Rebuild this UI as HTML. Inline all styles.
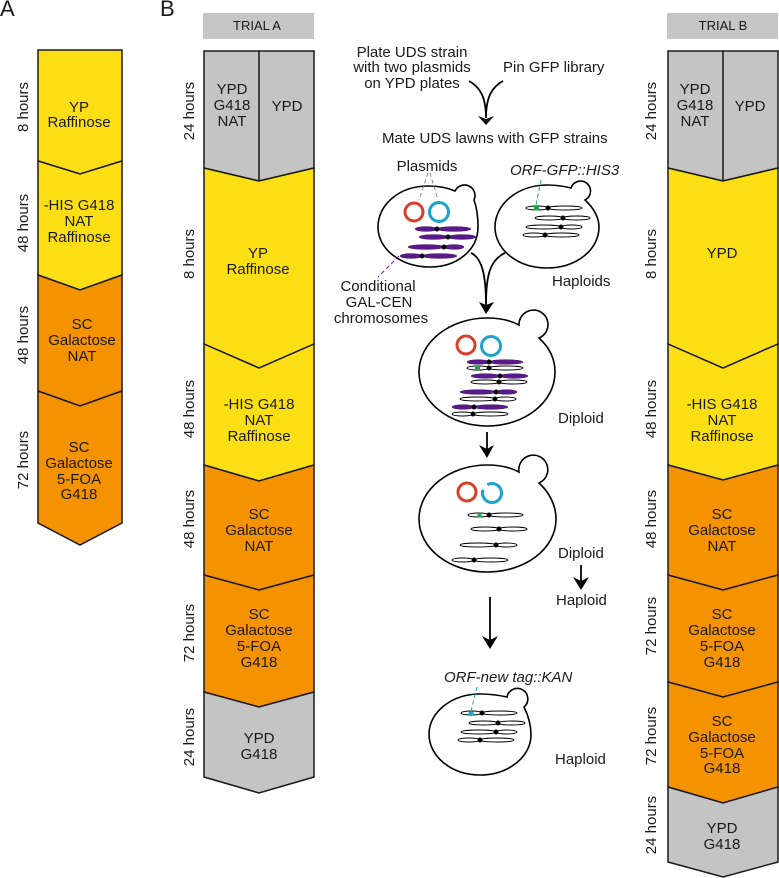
<!DOCTYPE html>
<html><head><meta charset="utf-8"><style>
html,body{margin:0;padding:0;background:#fff}
svg{display:block}
text{font-family:"Liberation Sans",sans-serif;font-size:15px;fill:#1a1a1a}
.m{text-anchor:middle}
.h{font-size:13px}
.i{font-style:italic}
.big{font-size:22px}
.s polygon,.s line{stroke:#1a1a1a;stroke-width:1.5}
.y{fill:#fbdf14}.o{fill:#f59200}.g{fill:#c4c4c4}
.cell{fill:#fff;stroke:#000;stroke-width:1.6}
.pu{fill:#5a1a8c;stroke:#3c1060;stroke-width:.5}
.wh{fill:#fff;stroke:#000;stroke-width:.9}
.arr{fill:none;stroke:#000;stroke-width:1.8}
.dot{fill:#000}
</style></head><body>
<svg width="779" height="878" viewBox="0 0 779 878" xmlns="http://www.w3.org/2000/svg">
<text class="big" x="0" y="16">A</text>
<text class="big" x="160" y="16">B</text>
<rect x="203" y="13" width="111" height="26" fill="#c6c6c6"/>
<rect x="667" y="13" width="111" height="26" fill="#c6c6c6"/>
<text class="m h" x="257" y="30">TRIAL A</text>
<text class="m h" x="723" y="30">TRIAL B</text>

<g class="s">
<polygon class="y" points="38,50 122,50 122,161 80,174 38,161"/>
<polygon class="y" points="38,161 80,174 122,161 122,275 80,290 38,275"/>
<polygon class="o" points="38,275 80,290 122,275 122,391 80,406 38,391"/>
<polygon class="o" points="38,391 80,406 122,391 122,523 80,545 38,523"/>

<polygon class="g" points="204,51 314,51 314,168 259,181 204,168"/>
<line x1="259" y1="51" x2="259" y2="181"/>
<polygon class="y" points="204,168 259,181 314,168 314,344 259,368 204,344"/>
<polygon class="y" points="204,344 259,368 314,344 314,465 259,481 204,465"/>
<polygon class="o" points="204,465 259,481 314,465 314,575 259,590 204,575"/>
<polygon class="o" points="204,575 259,590 314,575 314,692 259,707 204,692"/>
<polygon class="g" points="204,692 259,707 314,692 314,777 259,793 204,777"/>

<polygon class="g" points="668,51 778,51 778,168 723,181 668,168"/>
<line x1="723" y1="51" x2="723" y2="181"/>
<polygon class="y" points="668,168 723,181 778,168 778,344 723,368 668,344"/>
<polygon class="y" points="668,344 723,368 778,344 778,465 723,480 668,465"/>
<polygon class="o" points="668,465 723,480 778,465 778,575 723,590 668,575"/>
<polygon class="o" points="668,575 723,590 778,575 778,682 723,697 668,682"/>
<polygon class="o" points="668,682 723,697 778,682 778,787 723,803 668,787"/>
<polygon class="g" points="668,787 723,803 778,787 778,862 723,877 668,862"/>
</g>

<!-- Column A labels -->
<text class="m" x="79" y="112">YP</text><text class="m" x="79" y="127">Raffinose</text>
<text class="m" x="79" y="210">-HIS G418</text><text class="m" x="79" y="226">NAT</text><text class="m" x="79" y="242">Raffinose</text>
<text class="m" x="82" y="329">SC</text><text class="m" x="82" y="345">Galactose</text><text class="m" x="82" y="361">NAT</text>
<text class="m" x="79" y="452">SC</text><text class="m" x="79" y="468">Galactose</text><text class="m" x="79" y="484">5-FOA</text><text class="m" x="79" y="499">G418</text>
<text class="m" transform="translate(28 107) rotate(-90)">8 hours</text>
<text class="m" transform="translate(28 223) rotate(-90)">48 hours</text>
<text class="m" transform="translate(28 335) rotate(-90)">48 hours</text>
<text class="m" transform="translate(28 460) rotate(-90)">72 hours</text>

<!-- Trial A labels -->
<text class="m" x="232" y="94">YPD</text><text class="m" x="232" y="110">G418</text><text class="m" x="232" y="126">NAT</text>
<text class="m" x="287" y="111">YPD</text>
<text class="m" x="258" y="258">YP</text><text class="m" x="258" y="274">Raffinose</text>
<text class="m" x="259" y="409">-HIS G418</text><text class="m" x="259" y="425">NAT</text><text class="m" x="259" y="441">Raffinose</text>
<text class="m" x="259" y="519">SC</text><text class="m" x="259" y="535">Galactose</text><text class="m" x="259" y="551">NAT</text>
<text class="m" x="259" y="619">SC</text><text class="m" x="259" y="635">Galactose</text><text class="m" x="259" y="651">5-FOA</text><text class="m" x="259" y="667">G418</text>
<text class="m" x="259" y="743">YPD</text><text class="m" x="259" y="759">G418</text>
<text class="m" transform="translate(194 111) rotate(-90)">24 hours</text>
<text class="m" transform="translate(194 254) rotate(-90)">8 hours</text>
<text class="m" transform="translate(194 409) rotate(-90)">48 hours</text>
<text class="m" transform="translate(194 519) rotate(-90)">48 hours</text>
<text class="m" transform="translate(194 633) rotate(-90)">72 hours</text>
<text class="m" transform="translate(194 737) rotate(-90)">24 hours</text>

<!-- Trial B labels -->
<text class="m" x="695" y="94">YPD</text><text class="m" x="695" y="110">G418</text><text class="m" x="695" y="126">NAT</text>
<text class="m" x="750" y="111">YPD</text>
<text class="m" x="722" y="258">YPD</text>
<text class="m" x="722" y="409">-HIS G418</text><text class="m" x="722" y="425">NAT</text><text class="m" x="722" y="441">Raffinose</text>
<text class="m" x="722" y="519">SC</text><text class="m" x="722" y="535">Galactose</text><text class="m" x="722" y="551">NAT</text>
<text class="m" x="722" y="619">SC</text><text class="m" x="722" y="635">Galactose</text><text class="m" x="722" y="651">5-FOA</text><text class="m" x="722" y="667">G418</text>
<text class="m" x="722" y="726">SC</text><text class="m" x="722" y="742">Galactose</text><text class="m" x="722" y="758">5-FOA</text><text class="m" x="722" y="773">G418</text>
<text class="m" x="722" y="833">YPD</text><text class="m" x="722" y="849">G418</text>
<text class="m" transform="translate(656 111) rotate(-90)">24 hours</text>
<text class="m" transform="translate(656 254) rotate(-90)">8 hours</text>
<text class="m" transform="translate(656 409) rotate(-90)">48 hours</text>
<text class="m" transform="translate(656 519) rotate(-90)">48 hours</text>
<text class="m" transform="translate(656 626) rotate(-90)">72 hours</text>
<text class="m" transform="translate(656 736) rotate(-90)">72 hours</text>
<text class="m" transform="translate(656 825) rotate(-90)">24 hours</text>

<!-- Centre text -->
<text class="m" x="412" y="57">Plate UDS strain</text>
<text class="m" x="412" y="72">with two plasmids</text>
<text class="m" x="412" y="88">on YPD plates</text>
<text x="503" y="72">Pin GFP library</text>
<text x="382" y="143">Mate UDS lawns with GFP strains</text>
<text class="m" x="427" y="171">Plasmids</text>
<text class="i" x="510" y="175">ORF-GFP::HIS3</text>
<text class="m" x="378" y="291">Conditional</text>
<text class="m" x="379" y="307">GAL-CEN</text>
<text class="m" x="381" y="323">chromosomes</text>
<text x="552" y="286">Haploids</text>
<text x="558" y="423">Diploid</text>
<text x="558" y="558">Diploid</text>
<text x="556" y="605">Haploid</text>
<text class="i" x="444" y="682">ORF-new tag::KAN</text>
<text x="555" y="764">Haploid</text>

<!-- Arrows -->
<path class="arr" d="M469,81 C480,87 486,97 486,118 M503,81 C492,87 486,97 486,118"/>
<polygon points="478,116 486,119 494,116 486,125"/>
<path class="arr" d="M471,253 C482,258 486,275 486,305 M505,253 C490,260 486,275 486,305"/>
<polygon points="479,302 486,305 494,302 486,314"/>
<path class="arr" d="M487,432 V450"/>
<polygon points="479,445 487,449 494,445 487,458"/>
<path class="arr" d="M581,565 V582"/>
<polygon points="573,577 581,581 589,577 581,590"/>
<path class="arr" d="M490,597 V642"/>
<polygon points="482,636 490,640 498,636 490,649"/>

<!-- Cell 1 -->
<path class="cell" d="M455,191 C446,187 437,186 428,186 C400,186 378,204 378,227 C378,250 402,267 430,267 C457,267 478,250 478,227 C478,217 477,208 474,200 A10,10 0 1 0 455,191 Z"/>
<circle cx="414" cy="212" r="9" fill="none" stroke="#d9402a" stroke-width="3"/>
<circle cx="439" cy="212" r="9.5" fill="none" stroke="#1ba3c9" stroke-width="3"/>
<g class="pu">
<ellipse cx="426" cy="229" rx="11" ry="2.4"/><ellipse cx="454" cy="229" rx="17" ry="2.4"/>
<ellipse cx="433.5" cy="237" rx="14.5" ry="2.4"/><ellipse cx="462" cy="237" rx="14" ry="2.4"/>
<ellipse cx="426" cy="247" rx="18" ry="2.4"/><ellipse cx="454" cy="247" rx="10" ry="2.4"/>
<ellipse cx="411" cy="256" rx="11" ry="2.4"/><ellipse cx="439.5" cy="256" rx="17.5" ry="2.4"/>
</g>
<g class="dot"><circle cx="437" cy="229" r="2.5"/><circle cx="448" cy="237" r="2.5"/><circle cx="444" cy="247" r="2.5"/><circle cx="422" cy="256" r="2.5"/></g>

<!-- Cell 2 -->
<path class="cell" d="M571,188 C563,186 555,185 547,185 C518,185 495,204 495,227 C495,250 518,268 547,268 C576,268 599,250 599,227 C599,218 594,208 585,200 A10,10 0 1 0 571,188 Z"/>
<g class="wh">
<ellipse cx="537" cy="208" rx="11" ry="2"/><ellipse cx="565" cy="208" rx="17" ry="2"/>
<ellipse cx="549" cy="218" rx="14" ry="2"/><ellipse cx="576.5" cy="218" rx="13.5" ry="2"/>
<ellipse cx="543.5" cy="227" rx="17.5" ry="2"/><ellipse cx="571.5" cy="227" rx="10.5" ry="2"/>
<ellipse cx="534" cy="235" rx="11" ry="2"/><ellipse cx="562" cy="235" rx="17" ry="2"/>
</g>
<rect x="534" y="206" width="5" height="4.5" fill="#1fa54a"/>
<g class="dot"><circle cx="548" cy="208" r="2.5"/><circle cx="563" cy="218" r="2.5"/><circle cx="561" cy="227" r="2.5"/><circle cx="545" cy="235" r="2.5"/></g>

<!-- Cell 3 -->
<path class="cell" d="M519,325 C510,320 498,318 487,318 C450,318 419,342 419,372 C419,402 450,426 487,426 C525,426 555,402 555,372 C555,358 549,347 539,338 A14.5,14.5 0 1 0 519,325 Z"/>
<circle cx="466" cy="345" r="9" fill="none" stroke="#d9402a" stroke-width="3"/>
<circle cx="491" cy="346" r="9.5" fill="none" stroke="#1ba3c9" stroke-width="3"/>
<g class="pu">
<ellipse cx="478" cy="362" rx="11" ry="2.3"/><ellipse cx="506" cy="362" rx="17" ry="2.3"/>
<ellipse cx="485.5" cy="376" rx="14.5" ry="2.3"/><ellipse cx="514" cy="376" rx="14" ry="2.3"/>
<ellipse cx="478" cy="392" rx="18" ry="2.3"/><ellipse cx="506.5" cy="392" rx="10.5" ry="2.3"/>
<ellipse cx="463" cy="407" rx="11" ry="2.3"/><ellipse cx="491" cy="407" rx="17" ry="2.3"/>
</g>
<g class="wh">
<ellipse cx="478" cy="368" rx="11" ry="2"/><ellipse cx="506" cy="368" rx="17" ry="2"/>
<ellipse cx="485" cy="382" rx="14" ry="2"/><ellipse cx="513" cy="382" rx="14" ry="2"/>
<ellipse cx="477.5" cy="399" rx="17.5" ry="2"/><ellipse cx="505.5" cy="399" rx="10.5" ry="2"/>
<ellipse cx="462.5" cy="414" rx="10.5" ry="2"/><ellipse cx="490.5" cy="414" rx="17.5" ry="2"/>
</g>
<rect x="475" y="366" width="5" height="4" fill="#1fa54a"/>
<g class="dot"><circle cx="489" cy="362" r="2.5"/><circle cx="489" cy="368" r="2.5"/><circle cx="500" cy="376" r="2.5"/><circle cx="499" cy="382" r="2.5"/><circle cx="496" cy="392" r="2.5"/><circle cx="495" cy="399" r="2.5"/><circle cx="474" cy="407" r="2.5"/><circle cx="473" cy="414" r="2.5"/></g>

<!-- Cell 4 -->
<path class="cell" d="M519,472 C510,467 498,465 487,465 C450,465 419,489 419,519 C419,549 450,572 487,572 C525,572 556,549 556,519 C556,505 549,492 539,483 A14.5,14.5 0 1 0 519,472 Z"/>
<circle cx="467" cy="492" r="9" fill="none" stroke="#d9402a" stroke-width="3"/>
<path d="M487.3,484.8 A9.5,9.5 0 1 1 483.1,489.8" fill="none" stroke="#1ba3c9" stroke-width="3"/>
<g class="wh">
<ellipse cx="478.5" cy="515" rx="10.5" ry="2"/><ellipse cx="506" cy="515" rx="17" ry="2"/>
<ellipse cx="485" cy="529" rx="14" ry="2"/><ellipse cx="513" cy="529" rx="14" ry="2"/>
<ellipse cx="478" cy="545" rx="18" ry="2"/><ellipse cx="506.5" cy="545" rx="10.5" ry="2"/>
<ellipse cx="463" cy="560" rx="11" ry="2"/><ellipse cx="491" cy="560" rx="17" ry="2"/>
</g>
<rect x="477.5" y="513" width="4" height="4.5" fill="#1fa54a"/>
<g class="dot"><circle cx="489" cy="515" r="2.5"/><circle cx="499" cy="529" r="2.5"/><circle cx="496" cy="545" r="2.5"/><circle cx="474" cy="560" r="2.5"/></g>

<!-- Cell 5 -->
<path class="cell" d="M507,697 C498,695 489,694 480,694 C452,694 429,712 429,734 C429,757 452,775 480,775 C508,775 531,757 531,735 C531,724 528,715 524,707 A10.5,10.5 0 1 0 507,697 Z"/>
<g class="wh">
<ellipse cx="471.5" cy="713" rx="10.5" ry="2"/><ellipse cx="499.5" cy="713" rx="17.5" ry="2"/>
<ellipse cx="483.5" cy="723" rx="14.5" ry="2"/><ellipse cx="511.5" cy="723" rx="13.5" ry="2"/>
<ellipse cx="478.5" cy="732" rx="17.5" ry="2"/><ellipse cx="506.5" cy="732" rx="10.5" ry="2"/>
<ellipse cx="469" cy="740" rx="11" ry="2"/><ellipse cx="497" cy="740" rx="17" ry="2"/>
</g>
<circle cx="471" cy="713.5" r="2.6" fill="#1ba3c9"/>
<g class="dot"><circle cx="482" cy="713" r="2.5"/><circle cx="498" cy="723" r="2.5"/><circle cx="496" cy="732" r="2.5"/><circle cx="480" cy="740" r="2.5"/></g>

<!-- Dashed leaders -->
<g fill="none" stroke-width="1" stroke-dasharray="4 3">
<path d="M428,173 L419,200" stroke="#8a8a8a"/>
<path d="M430,173 L438,200" stroke="#8a8a8a"/>
<path d="M399,256 L378,277" stroke="#5a1a8c"/>
<path d="M541,180 L536,205" stroke="#1fa54a"/>
<path d="M477,687 L471,711" stroke="#1ba3c9"/>
</g>
</svg>
</body></html>
